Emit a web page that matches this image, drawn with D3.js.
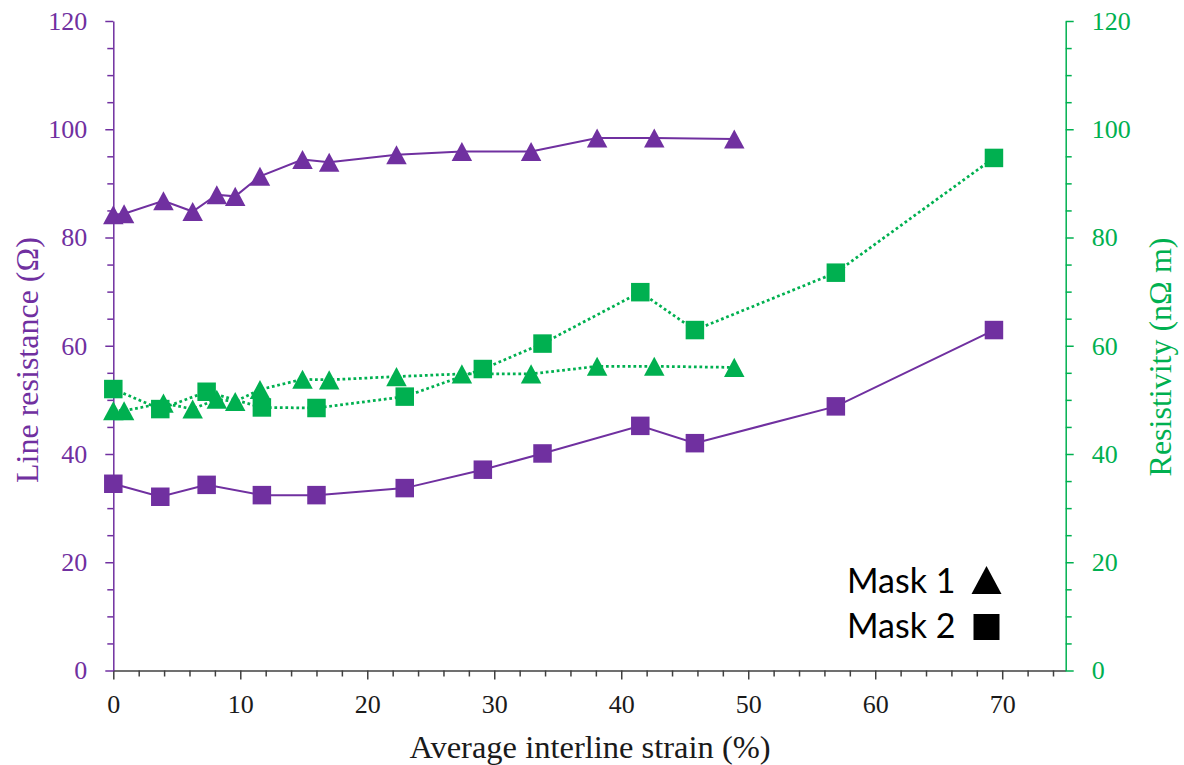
<!DOCTYPE html>
<html>
<head>
<meta charset="utf-8">
<script src="https://cdn.jsdelivr.net/npm/d3@7"></script>
<style>
  html, body { margin: 0; padding: 0; background: #ffffff; }
  svg { display: block; }
</style>
</head>
<body>
<svg id="chart" width="1184" height="765"></svg>
<script>
// ---------------- data ----------------
const mask1Strain      = [0, 0.85, 3.95, 6.25, 8.15, 9.6, 11.55, 14.9, 17.0, 22.3, 27.45, 32.9, 38.1, 42.6, 48.9];
const mask1Resistance  = [84.2, 84.4, 86.8, 84.8, 87.9, 87.6, 91.3, 94.4, 93.9, 95.3, 95.9, 95.9, 98.4, 98.4, 98.2];
const mask1Resistivity = [48.0, 48.0, 49.4, 48.3, 50.1, 49.7, 51.9, 53.8, 53.7, 54.3, 54.8, 54.8, 56.2, 56.2, 56.0];

const mask2Strain      = [0, 3.7, 7.35, 11.7, 16.0, 22.95, 29.1, 33.8, 41.5, 45.8, 56.9, 69.35];
const mask2Resistance  = [34.5, 32.1, 34.3, 32.4, 32.4, 33.7, 37.1, 40.1, 45.2, 42.0, 48.8, 62.9];
const mask2Resistivity = [52.0, 48.3, 51.5, 48.6, 48.5, 50.6, 55.7, 60.4, 69.9, 62.9, 73.5, 94.7];

const xTicks = [0, 10, 20, 30, 40, 50, 60, 70];
const yTicks = [0, 20, 40, 60, 80, 100, 120];
const legendLabels = ["Mask 1", "Mask 2"];
const xTitle = "Average interline strain (%)";
const yLeftTitle = "Line resistance (\u03A9)";
const yRightTitle = "Resistivity (n\u03A9 m)";

// ---------------- styles ----------------
const PURPLE = "#7030A0";
const GREEN = "#00B050";
const SERIF = "Liberation Serif";

const svg = d3.select("#chart").style("font-family", SERIF);

const x = d3.scaleLinear().domain([0, 75]).range([113.3, 1065.7]);
const yL = d3.scaleLinear().domain([0, 120]).range([670.5, 21]);
const yR = d3.scaleLinear().domain([0, 120]).range([670.5, 21]);

// bbox-centred triangle symbol
const triSym = {
  draw(ctx, size) {
    const w = Math.sqrt(size), h = w * 0.93;
    ctx.moveTo(0, -h / 2);
    ctx.lineTo(w / 2, h / 2);
    ctx.lineTo(-w / 2, h / 2);
    ctx.closePath();
  }
};
const sqSym = {
  draw(ctx, size) {
    const w = Math.sqrt(size);
    ctx.rect(-w / 2, -w / 2, w, w);
  }
};

// ---------------- axes ----------------
function styleAxis(g, color, fontSize) {
  g.attr("font-family", SERIF).attr("font-size", fontSize);
  g.select(".domain").attr("stroke", color).attr("stroke-width", 1.5);
  g.selectAll(".tick line").attr("stroke", color).attr("stroke-width", 1.5);
  g.selectAll(".tick text").attr("fill", color)
    .attr("font-family", SERIF).style("font-family", SERIF).style("font-size", fontSize + "px");
}

// x minor ticks
const xMinor = d3.range(0, 75, 2).filter(v => v % 10 !== 0);
svg.append("g").attr("transform", `translate(0,${yL(0)})`)
  .call(d3.axisBottom(x).tickValues(xMinor).tickSize(6).tickFormat(""))
  .call(g => { g.select(".domain").remove(); g.selectAll(".tick line").attr("stroke", "#404040").attr("stroke-width", 1.5); });

// y minor ticks
const yMinor = d3.range(0, 121, 5).filter(v => v % 20 !== 0);
svg.append("g").attr("transform", `translate(${x(0)},0)`)
  .call(d3.axisLeft(yL).tickValues(yMinor).tickSize(6).tickFormat(""))
  .call(g => { g.select(".domain").remove(); g.selectAll(".tick line").attr("stroke", PURPLE).attr("stroke-width", 1.5); });
svg.append("g").attr("transform", `translate(${x(75)},0)`)
  .call(d3.axisRight(yR).tickValues(yMinor).tickSize(6).tickFormat(""))
  .call(g => { g.select(".domain").remove(); g.selectAll(".tick line").attr("stroke", GREEN).attr("stroke-width", 1.5); });

// x axis
svg.append("g").attr("transform", `translate(0,${yL(0)})`)
  .call(d3.axisBottom(x).tickValues(xTicks).tickSize(9).tickSizeOuter(0).tickPadding(15).tickFormat(d3.format("d")))
  .call(g => styleAxis(g, "#404040", 26))
  .call(g => g.selectAll(".tick text").attr("fill", "#1a1a1a"));

// left axis
svg.append("g").attr("transform", `translate(${x(0)},0)`)
  .call(d3.axisLeft(yL).tickValues(yTicks).tickSize(8).tickSizeOuter(0).tickPadding(18).tickFormat(d3.format("d")))
  .call(g => styleAxis(g, PURPLE, 26));

// right axis
svg.append("g").attr("transform", `translate(${x(75)},0)`)
  .call(d3.axisRight(yR).tickValues(yTicks).tickSize(8).tickSizeOuter(0).tickPadding(18).tickFormat(d3.format("d")))
  .call(g => styleAxis(g, GREEN, 26));

// titles
svg.append("text").attr("x", 590).attr("y", 758).attr("text-anchor", "middle")
  .attr("font-family", SERIF).style("font-family", SERIF).style("font-size", "32.5px").attr("fill", "#1a1a1a").text(xTitle);
svg.append("text").attr("transform", "translate(27,360) rotate(-90)").attr("text-anchor", "middle")
  .attr("dy", "0.35em").attr("font-family", SERIF).style("font-family", SERIF).style("font-size", "32px").attr("fill", PURPLE).text(yLeftTitle);
svg.append("text").attr("transform", "translate(1160,357) rotate(-90)").attr("text-anchor", "middle")
  .attr("dy", "0.35em").attr("font-family", SERIF).style("font-family", SERIF).style("font-size", "32px").attr("fill", GREEN).text(yRightTitle);

// ---------------- series ----------------
function series(xs, ys, yScale, color, sym, symSize, dotted) {
  const pts = xs.map((v, i) => [v, ys[i]]);
  const line = d3.line().x(d => x(d[0])).y(d => yScale(d[1]));
  svg.append("path").datum(pts).attr("d", line).attr("fill", "none")
    .attr("stroke", color)
    .attr("stroke-width", dotted ? 2.75 : 2)
    .attr("stroke-dasharray", dotted ? "2.75,2.75" : null);
  svg.append("g").selectAll("path").data(pts).join("path")
    .attr("transform", d => `translate(${x(d[0])},${yScale(d[1])})`)
    .attr("d", d3.symbol().type(sym).size(symSize * symSize))
    .attr("fill", color);
}

series(mask2Strain, mask2Resistivity, yR, GREEN, sqSym, 18.5, true);
series(mask1Strain, mask1Resistivity, yR, GREEN, triSym, 20.5, true);
series(mask1Strain, mask1Resistance, yL, PURPLE, triSym, 20.5, false);
series(mask2Strain, mask2Resistance, yL, PURPLE, sqSym, 18.5, false);

// ---------------- legend ----------------
const legend = svg.append("g");
const legendSyms = [triSym, sqSym];
const legendSizes = [30 * 30, 26 * 26];
legendLabels.forEach((lab, i) => {
  legend.append("text").attr("x", 847).attr("y", 593 + i * 45)
    .attr("font-family", "Lato").style("font-family", "Lato").style("font-size", "34px")
    .attr("fill", "#000").text(lab);
  legend.append("path")
    .attr("transform", `translate(986.5,${580 + i * 47})`)
    .attr("d", d3.symbol().type(legendSyms[i]).size(legendSizes[i]))
    .attr("fill", "#000");
});
</script>
</body>
</html>
